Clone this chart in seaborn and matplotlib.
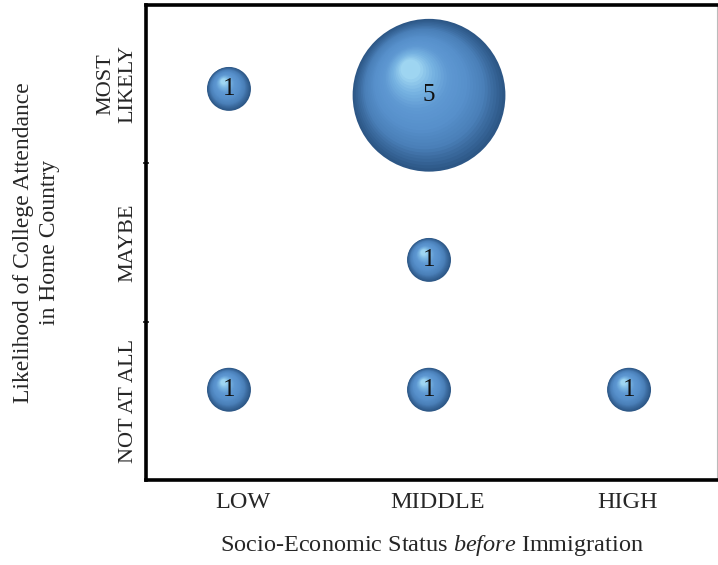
import numpy as np
import pandas as pd
import matplotlib
matplotlib.use("Agg")
import matplotlib.pyplot as plt
import matplotlib.transforms as mtransforms
from matplotlib.colors import LinearSegmentedColormap
import seaborn as sns

# data
ses_labels = ["LOW", "MIDDLE", "HIGH"]
ses_label_pos = [0.51, 1.53, 2.53]
likely_labels = ["NOT AT ALL", "MAYBE", "MOST\nLIKELY"]
likely_label_pos = [0.5, 1.5, 2.5]

bubble_x = [0.436, 1.487, 2.538, 1.487, 0.436, 1.487]
bubble_y = [0.57, 0.57, 0.57, 1.39, 2.47, 2.43]
counts = [1, 1, 1, 1, 1, 5]

df = pd.DataFrame({"x": bubble_x, "y": bubble_y, "count": counts})

sns.set_theme(style="white")
plt.rcParams["font.family"] = ["Liberation Serif", "DejaVu Serif"]
plt.rcParams["mathtext.fontset"] = "custom"
plt.rcParams["mathtext.rm"] = "Liberation Serif"
plt.rcParams["mathtext.it"] = "Liberation Serif:italic"

fig = plt.figure(figsize=(7.18, 5.65), dpi=100)
ax = fig.add_axes([146 / 718, 85 / 565, 571 / 718, 475 / 565])

size_map = {1: 1000, 5: 12100}
sns.scatterplot(data=df, x="x", y="y", size="count", sizes=size_map,
                color="#2d5786", edgecolor="none", legend=False, ax=ax, zorder=2)

# sphere shading: stacked discs, shifted toward the upper left
shade = LinearSegmentedColormap.from_list(
    "sphere", ["#2d5786", "#4a7fb8", "#5790cb", "#5e98d2", "#78b4e2", "#a6dcf4"])
steps = 30
for xv, yv, c in zip(bubble_x, bubble_y, counts):
    r = np.sqrt(size_map[c]) / 2
    for i in range(1, steps):
        t = i / steps
        rr = r * (1 - 0.9 * t)
        tr = mtransforms.offset_copy(ax.transData, fig=fig,
                                     x=-0.25 * r * t, y=0.35 * r * t, units="points")
        ax.scatter([xv], [yv], s=(2 * rr) ** 2, color=shade(t ** 1.1),
                   edgecolor="none", transform=tr, zorder=2 + t)
    ax.text(xv, yv, str(c), ha="center", va="center", fontsize=18,
            color="#111111", zorder=5)

ax.set_xlim(0, 3)
ax.set_ylim(0, 3)
ax.set_xticks(ses_label_pos)
ax.set_xticklabels(ses_labels, fontsize=17.5)
ax.set_yticks(likely_label_pos)
ax.set_yticklabels(likely_labels, fontsize=16, rotation=90, va="center",
                   ha="right", multialignment="center", linespacing=1.25)
ax.set_yticks([1, 2], minor=True)
ax.tick_params(axis="both", which="major", length=0)
ax.tick_params(axis="y", which="major", pad=6)
ax.tick_params(axis="x", which="major", pad=9)
ax.tick_params(axis="y", which="minor", length=5, width=1.2, direction="inout",
               color="#222222", left=True)

ax.set_xlabel("Socio-Economic Status $\\mathit{before}$ Immigration", fontsize=17.5,
              labelpad=14)
ax.set_ylabel("Likelihood of College Attendance\nin Home Country", fontsize=17,
              labelpad=26, linespacing=1.3)

for side in ["left", "top", "bottom"]:
    ax.spines[side].set_linewidth(2.6)
    ax.spines[side].set_color("black")
ax.spines["right"].set_linewidth(0.8)
ax.spines["right"].set_color("#bbbbbb")

fig.savefig("out.png", dpi=100)
